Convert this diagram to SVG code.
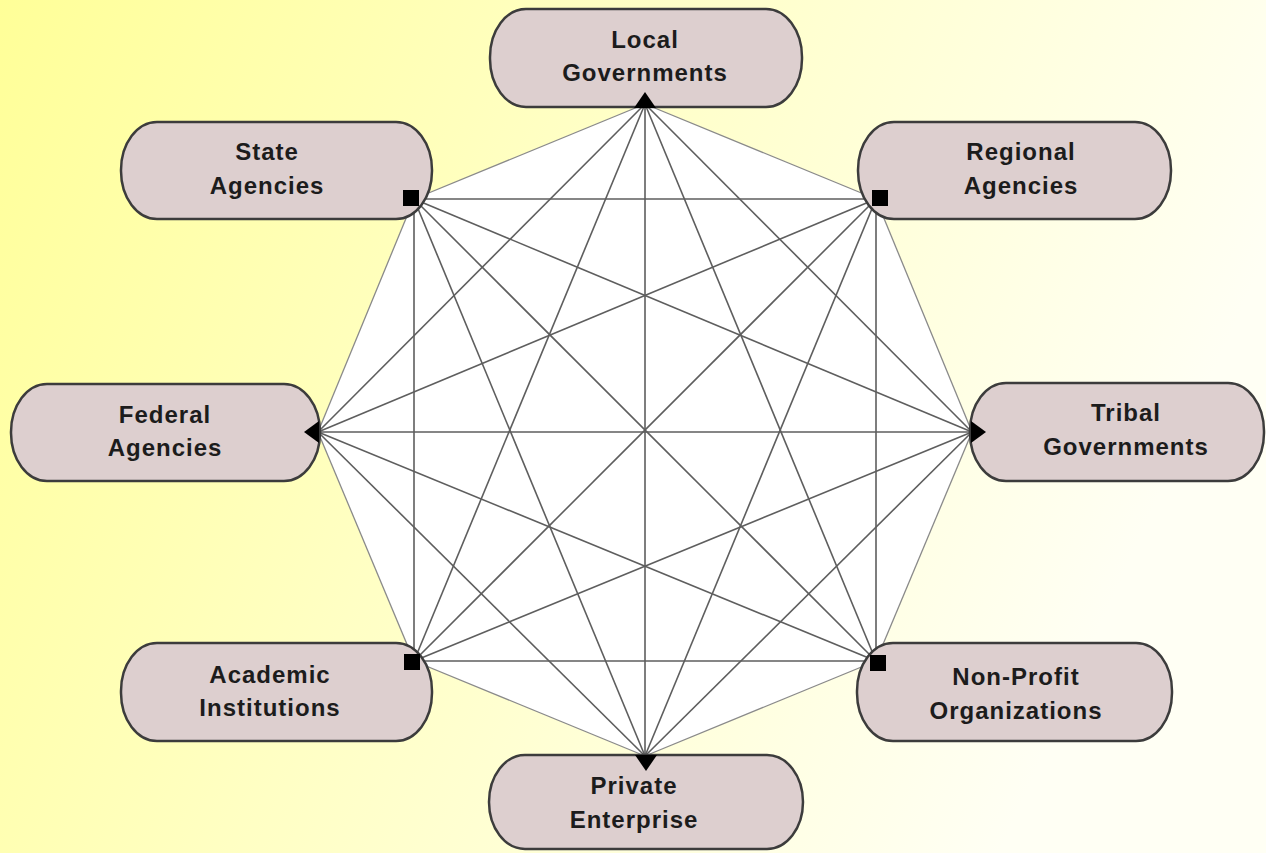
<svg xmlns="http://www.w3.org/2000/svg" width="1266" height="853" viewBox="0 0 1266 853">
  <defs>
    <linearGradient id="bg" x1="0" y1="0" x2="1" y2="0.3">
      <stop offset="0" stop-color="#ffff98"/>
      <stop offset="0.45" stop-color="#ffffc4"/>
      <stop offset="1" stop-color="#fffff4"/>
    </linearGradient>
  </defs>
  <style>
    .pill { fill: #ddcfcf; stroke: #3c3c3c; stroke-width: 2.5; }
    .lbl { font-family: "Liberation Sans", Arial, sans-serif; font-weight: bold; font-size: 24px; letter-spacing: 1px; fill: #1c1c1c; text-anchor: middle; }
    .conn line { stroke: #5e5e5e; stroke-width: 1.6; }
    .conn line.edge { stroke: #8a8a8a; stroke-width: 1.3; }
    .mk { fill: #000; }
  </style>
  <rect x="0" y="0" width="1266" height="853" fill="url(#bg)"/>
  <polygon points="645,104 876,199 972,432 876,661 645,756 414,661 318,432 414,199" fill="#ffffff"/>
  <g id="connectors" class="conn">
    <line class="edge" x1="645" y1="104" x2="876" y2="199"/>
    <line x1="645" y1="104" x2="972" y2="432"/>
    <line x1="645" y1="104" x2="876" y2="661"/>
    <line x1="645" y1="104" x2="645" y2="756"/>
    <line x1="645" y1="104" x2="414" y2="661"/>
    <line x1="645" y1="104" x2="318" y2="432"/>
    <line class="edge" x1="645" y1="104" x2="414" y2="199"/>
    <line class="edge" x1="876" y1="199" x2="972" y2="432"/>
    <line x1="876" y1="199" x2="876" y2="661"/>
    <line x1="876" y1="199" x2="645" y2="756"/>
    <line x1="876" y1="199" x2="414" y2="661"/>
    <line x1="876" y1="199" x2="318" y2="432"/>
    <line x1="876" y1="199" x2="414" y2="199"/>
    <line class="edge" x1="972" y1="432" x2="876" y2="661"/>
    <line x1="972" y1="432" x2="645" y2="756"/>
    <line x1="972" y1="432" x2="414" y2="661"/>
    <line x1="972" y1="432" x2="318" y2="432"/>
    <line x1="972" y1="432" x2="414" y2="199"/>
    <line class="edge" x1="876" y1="661" x2="645" y2="756"/>
    <line x1="876" y1="661" x2="414" y2="661"/>
    <line x1="876" y1="661" x2="318" y2="432"/>
    <line x1="876" y1="661" x2="414" y2="199"/>
    <line class="edge" x1="645" y1="756" x2="414" y2="661"/>
    <line x1="645" y1="756" x2="318" y2="432"/>
    <line x1="645" y1="756" x2="414" y2="199"/>
    <line class="edge" x1="414" y1="661" x2="318" y2="432"/>
    <line x1="414" y1="661" x2="414" y2="199"/>
    <line class="edge" x1="318" y1="432" x2="414" y2="199"/>
  </g>
  <g id="local-governments">
    <rect class="pill" x="490" y="9" width="312" height="98" rx="36" ry="48"/>
    <text class="lbl" x="645" y="48">Local</text>
    <text class="lbl" x="645" y="81">Governments</text>
    <polygon class="mk" points="645,92 634,108 656,108"/>
  </g>
  <g id="regional-agencies">
    <rect class="pill" x="858" y="122" width="313" height="97" rx="36" ry="48"/>
    <text class="lbl" x="1021" y="160">Regional</text>
    <text class="lbl" x="1021" y="194">Agencies</text>
    <rect class="mk" x="872" y="190" width="16" height="16"/>
  </g>
  <g id="tribal-governments">
    <rect class="pill" x="970" y="383" width="294" height="98" rx="36" ry="48"/>
    <text class="lbl" x="1126" y="421">Tribal</text>
    <text class="lbl" x="1126" y="455">Governments</text>
    <polygon class="mk" points="986,432 971,421 971,443"/>
  </g>
  <g id="non-profit-organizations">
    <rect class="pill" x="857" y="643" width="315" height="98" rx="36" ry="48"/>
    <text class="lbl" x="1016" y="685">Non-Profit</text>
    <text class="lbl" x="1016" y="719">Organizations</text>
    <rect class="mk" x="870" y="655" width="16" height="16"/>
  </g>
  <g id="private-enterprise">
    <rect class="pill" x="489" y="755" width="314" height="94" rx="36" ry="47"/>
    <text class="lbl" x="634" y="794">Private</text>
    <text class="lbl" x="634" y="828">Enterprise</text>
    <polygon class="mk" points="646,771 635,755 657,755"/>
  </g>
  <g id="academic-institutions">
    <rect class="pill" x="121" y="643" width="311" height="98" rx="36" ry="48"/>
    <text class="lbl" x="270" y="683">Academic</text>
    <text class="lbl" x="270" y="716">Institutions</text>
    <rect class="mk" x="404" y="654" width="16" height="16"/>
  </g>
  <g id="federal-agencies">
    <rect class="pill" x="11" y="384" width="309" height="97" rx="36" ry="48"/>
    <text class="lbl" x="165" y="423">Federal</text>
    <text class="lbl" x="165" y="456">Agencies</text>
    <polygon class="mk" points="304,432 319,421 319,443"/>
  </g>
  <g id="state-agencies">
    <rect class="pill" x="121" y="122" width="311" height="97" rx="36" ry="48"/>
    <text class="lbl" x="267" y="160">State</text>
    <text class="lbl" x="267" y="194">Agencies</text>
    <rect class="mk" x="403" y="190" width="16" height="16"/>
  </g>
</svg>
